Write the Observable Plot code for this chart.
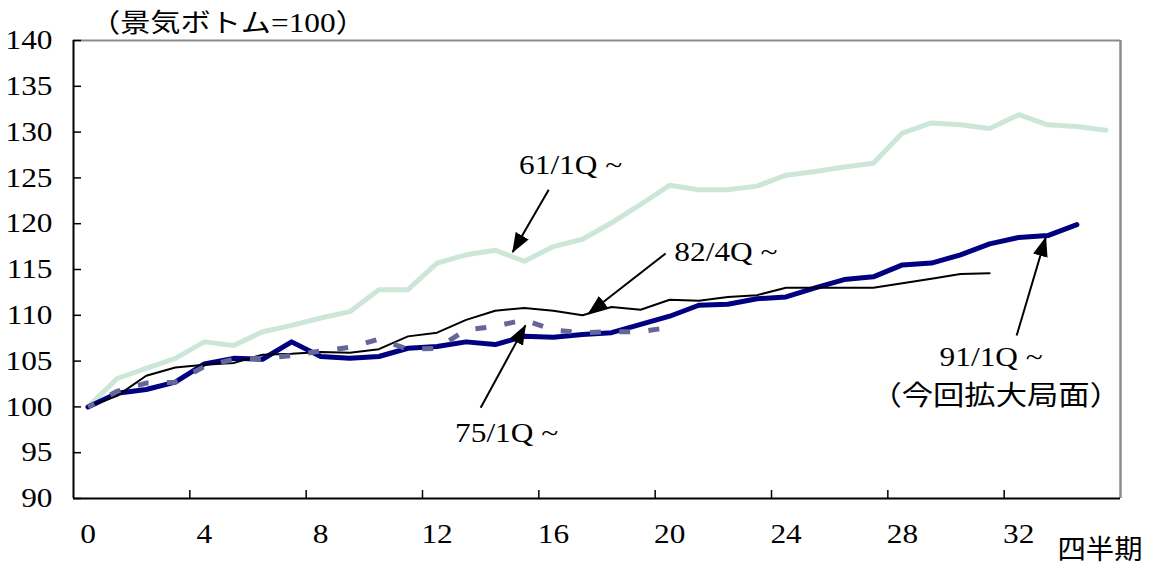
<!DOCTYPE html>
<html>
<head>
<meta charset="utf-8">
<script src="https://cdn.jsdelivr.net/npm/d3@7"></script>
<script src="https://cdn.jsdelivr.net/npm/@observablehq/plot@0.6"></script>
<style>
  body { margin: 0; background: #fff; }
  #chart { position: relative; width: 1150px; height: 576px; }
  #chart svg { position: absolute; left: 0; top: 0; }
  #title {
    position: absolute; left: 90px; top: 8px; white-space: nowrap; line-height: 1;
    transform: scaleX(1.16); transform-origin: left center; z-index: 2;
  }
  #title .cj { font-family: "Noto Sans CJK JP", sans-serif; font-size: 26px; }
  #title .sf { font-family: "Liberation Serif", serif; font-size: 27px; }
</style>
</head>
<body>
<div id="chart">
  <div id="title"><span class="cj">（景気ボトム</span><span class="sf">=100</span><span class="cj">）</span></div>
</div>
<script>
// Quarters elapsed since each business-cycle trough (trough = 100)
const cycle61 = [100, 103.1, 104.2, 105.3, 107.1, 106.7, 108.2, 108.9, 109.7, 110.4, 112.8, 112.8,
  115.7, 116.6, 117.1, 115.9, 117.5, 118.3, 120.1, 122.1, 124.2, 123.7, 123.7, 124.1,
  125.3, 125.7, 126.2, 126.6, 129.9, 131.0, 130.8, 130.4, 131.9, 130.8, 130.6, 130.2];
const cycle75 = [100, 101.7, 102.6, 102.7, 104.4, 105.2, 105.3, 105.6, 106.1, 106.5, 107.4, 106.3,
  106.4, 108.4, 108.8, 109.5, 108.4, 108.1, 108.2, 108.2, 108.7];
const cycle82 = [100, 101.2, 103.4, 104.3, 104.6, 104.8, 105.7, 105.8, 106.0, 105.9, 106.3, 107.7,
  108.1, 109.5, 110.5, 110.8, 110.5, 110.0, 110.9, 110.6, 111.7, 111.6, 112.0, 112.2,
  113.0, 113.0, 113.0, 113.0, 113.5, 114.0, 114.5, 114.6];
const cycle91 = [100, 101.5, 101.9, 102.7, 104.7, 105.3, 105.2, 107.1, 105.5, 105.3, 105.5, 106.4,
  106.6, 107.1, 106.8, 107.7, 107.6, 107.9, 108.1, 109.0, 109.9, 111.1, 111.2, 111.8,
  112.0, 113.0, 113.9, 114.2, 115.5, 115.7, 116.6, 117.8, 118.5, 118.7, 119.9];

const xTickLabels = [0, 4, 8, 12, 16, 20, 24, 28, 32];
const yTickLabels = [90, 95, 100, 105, 110, 115, 120, 125, 130, 135, 140];
const xAxisTitle = "四半期";

// Callout labels with their arrows (text anchor, arrow tail -> arrow tip)
const callouts = [
  {text: "61/1Q ~", tx: 14.82, ty: 126.4, x1: 15.84, y1: 123.7, x2: 14.60, y2: 116.9},
  {text: "82/4Q ~", tx: 20.16, ty: 116.85, x1: 19.86, y1: 116.75, x2: 17.21, y2: 110.2},
  {text: "75/1Q ~", tx: 12.62, ty: 97.1, x1: 13.50, y1: 99.9, x2: 15.04, y2: 108.9},
  {text: "91/1Q ~", tx: 29.28, ty: 105.4, x1: 31.93, y1: 107.8, x2: 32.93, y2: 118.5}
];
const currentNote = [{text: "（今回拡大局面）", tx: 26.9, ty: 101.2}];

const rows = (values) => values.map((v, q) => ({q, v}));

const W = 1150, H = 576, mt = 40, mb = 78, ml = 73, mr = 30;
const yDomain = [90, 140], xDomain = [-0.5, 35.5];
const pxPerY = (H - mt - mb) / (yDomain[1] - yDomain[0]);
const pxPerX = (W - ml - mr) / (xDomain[1] - xDomain[0]);
const tickLen = 8;

const serif = "'Liberation Serif', 'Times New Roman', serif";
const gothic = "'Noto Sans CJK JP', sans-serif";
const mintFallback = "#cde8da";

const chart = Plot.plot({
  width: W, height: H,
  marginTop: mt, marginBottom: mb, marginLeft: ml, marginRight: mr,
  x: {domain: xDomain, axis: null},
  y: {domain: yDomain, axis: null},
  style: {fontFamily: serif, fontSize: "27px", background: "white", color: "black", overflow: "visible"},
  marks: [
    // frame: gray top/right, black axes
    Plot.ruleY([yDomain[1]], {stroke: "#8c8c8c", strokeWidth: 2}),
    Plot.ruleX([xDomain[1]], {stroke: "#8c8c8c", strokeWidth: 2.5}),
    // inward tick marks
    Plot.ruleY(yTickLabels, {x1: xDomain[0], x2: xDomain[0] + tickLen / pxPerX, stroke: "black", strokeWidth: 1.5}),
    Plot.ruleX(xTickLabels.slice(1).map(t => t - 0.5), {y1: yDomain[0], y2: yDomain[0] + tickLen / pxPerY, stroke: "black", strokeWidth: 1.5}),
    // series
    Plot.line(rows(cycle61), {x: "q", y: "v", stroke: mintFallback, strokeWidth: 5}),
    Plot.line(rows(cycle91), {x: "q", y: "v", stroke: "#000080", strokeWidth: 5}),
    Plot.line(rows(cycle82), {x: "q", y: "v", stroke: "black", strokeWidth: 2}),
    Plot.line(rows(cycle75), {x: "q", y: "v", stroke: "#666699", strokeWidth: 5,
      strokeDasharray: "11 18.3", strokeDashoffset: 4, strokeLinecap: "butt", strokeLinejoin: "miter"}),
    Plot.ruleX([xDomain[0]], {stroke: "black", strokeWidth: 2}),
    Plot.ruleY([yDomain[0]], {stroke: "black", strokeWidth: 2}),
    // tick labels
    Plot.text(yTickLabels, {frameAnchor: "left", y: d => d, text: d => String(d), textAnchor: "end", dx: -21}),
    Plot.text(xTickLabels, {frameAnchor: "bottom", x: d => d, text: d => String(d), dy: 44}),
    Plot.text([xAxisTitle], {frameAnchor: "bottom-right", text: d => d, textAnchor: "end", dx: 22, dy: 60,
      fontFamily: gothic, fontSize: 27}),
    // callouts
    Plot.link(callouts, {x1: "x1", y1: "y1", x2: "x2", y2: "y2", stroke: "black", strokeWidth: 2}),
    Plot.text(callouts, {x: "tx", y: "ty", text: "text", textAnchor: "start"}),
    Plot.text(currentNote, {x: "tx", y: "ty", text: "text", textAnchor: "start", fontFamily: gothic, fontSize: 27})
  ]
});

document.getElementById("chart").appendChild(chart);

// Shared definitions: filled arrowheads and the stippled mint stroke
const ns = "http://www.w3.org/2000/svg";
const defs = document.createElementNS(ns, "defs");
defs.innerHTML = `
  <marker id="callout-head" viewBox="0 0 20 15" refX="19" refY="7.5" markerWidth="20" markerHeight="15"
          markerUnits="userSpaceOnUse" orient="auto">
    <path d="M0,0L20,7.5L0,15Z" fill="black"/>
  </marker>
  <pattern id="mint-stipple" width="2" height="2" patternUnits="userSpaceOnUse">
    <rect width="2" height="2" fill="#ffffff"/>
    <rect width="1" height="1" fill="#98cfb1"/>
    <rect x="1" y="1" width="1" height="1" fill="#98cfb1"/>
  </pattern>`;
chart.prepend(defs);

// Swap the flat mint stroke for the stippled texture
chart.querySelectorAll("g, path").forEach(el => {
  const s = (el.getAttribute("stroke") || "").toLowerCase();
  if (s === mintFallback || s === "rgb(205, 232, 218)") el.setAttribute("stroke", "url(#mint-stipple)");
});
const linkGroup = chart.querySelector('g[aria-label="link"]');
if (linkGroup) linkGroup.setAttribute("marker-end", "url(#callout-head)");

// Slightly wide lettering (text groups in mark order)
const textGroups = chart.querySelectorAll('g[aria-label="text"]');
const widen = [1.16, 1.16, 1.05, 1.16, 1.16];
textGroups.forEach((g, i) => {
  const k = widen[i] ?? 1;
  g.querySelectorAll("text").forEach(t => {
    const len = t.getComputedTextLength();
    if (len > 0) {
      t.setAttribute("textLength", (len * k).toFixed(1));
      t.setAttribute("lengthAdjust", "spacingAndGlyphs");
    }
  });
});
</script>
</body>
</html>
